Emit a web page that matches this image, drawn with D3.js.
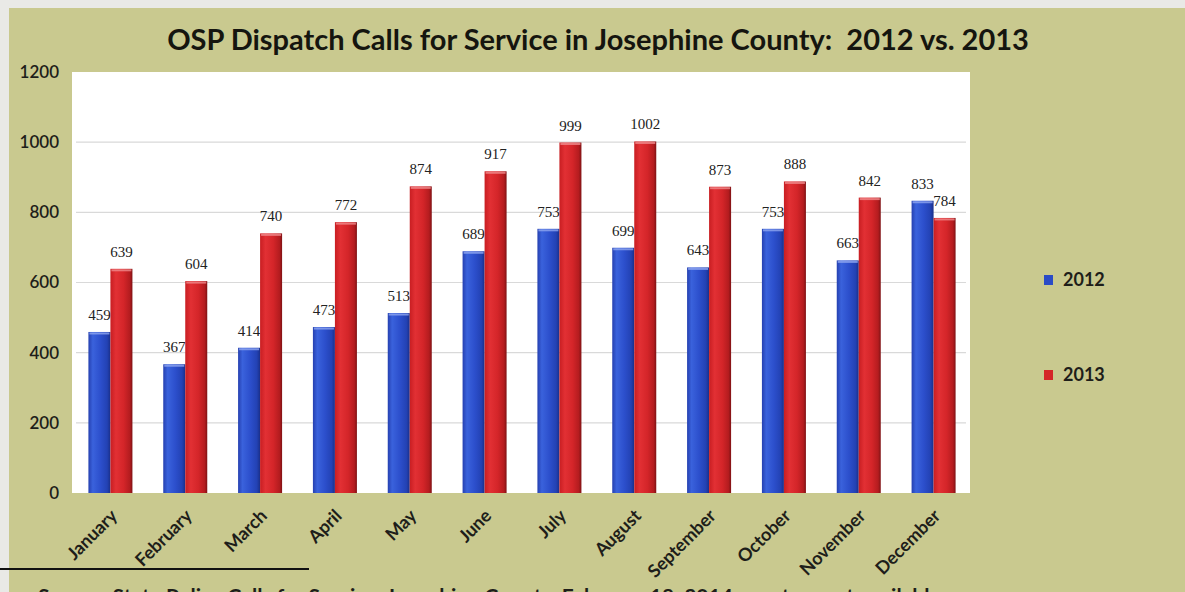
<!DOCTYPE html>
<html>
<head>
<meta charset="utf-8">
<script src="https://cdn.jsdelivr.net/npm/d3@7"></script>
<style>
  html, body { margin: 0; padding: 0; background: #ececec; overflow: hidden; }
  svg { display: block; }
</style>
</head>
<body>
<div id="container"></div>
<script>
// data
const months = ["January","February","March","April","May","June","July","August","September","October","November","December"]
const series = ["2012","2013"]
const calls2012 = [459,367,414,473,513,689,753,699,643,753,663,833]
const calls2013 = [639,604,740,772,874,917,999,1002,873,888,842,784]
const yTicks = [0,200,400,600,800,1000,1200]
const titleText = "OSP Dispatch Calls for Service in Josephine County:  2012 vs. 2013"
const sourceText = "Source: State Police Calls for Service, Josephine County, February 18, 2014, most recent available"

const width = 1185, height = 592
const plot = {left: 72, top: 72, right: 970, bottom: 493}
const sans = "Lato, 'Open Sans', sans-serif"

const svg = d3.select("#container")
    .append("svg")
    .attr("width", width)
    .attr("height", height)
    .attr("viewBox", [0, 0, width, height])

//background: olive sheet, pale scan edges on top/left
svg.append("rect").attr("width", width).attr("height", height).attr("fill", "#e9e9e6")
svg.append("rect")
    .attr("x", 9).attr("y", 8)
    .attr("width", width - 9).attr("height", height - 8)
    .attr("fill", "#c9c98f")

const defs = svg.append("defs")
function barGradient(id, stops){
    const g = defs.append("linearGradient").attr("id", id)
        .attr("x1", "0%").attr("x2", "100%").attr("y1", "0%").attr("y2", "0%")
    stops.forEach(s => g.append("stop").attr("offset", s[0]).attr("stop-color", s[1]))
}
barGradient("grad2012", [["0%","#2540b0"],["20%","#3a62dc"],["55%","#2c4fcc"],["85%","#2342b4"],["100%","#1a2f8a"]])
barGradient("grad2013", [["0%","#c81e22"],["25%","#e23034"],["60%","#d42529"],["88%","#b41c1f"],["100%","#7e1214"]])
const colors = {"2012": "#2a4bc6", "2013": "#d42628"}

svg.append("rect")
    .attr("x", plot.left).attr("y", plot.top)
    .attr("width", plot.right - plot.left).attr("height", plot.bottom - plot.top)
    .attr("fill", "#ffffff")

const y = d3.scaleLinear().domain([0, 1200]).range([plot.bottom, plot.top])
const x0 = d3.scaleBand().domain(months).range([plot.left + 1, plot.right + 1])
    .paddingInner(0.412).paddingOuter(0.206)
const x1 = d3.scaleBand().domain(series).range([0, x0.bandwidth()])

//gridlines
svg.append("g")
    .selectAll("line")
    .data(yTicks.filter(t => t > 0 && t < 1200))
    .join("line")
    .attr("x1", plot.left + 4).attr("x2", plot.right - 4)
    .attr("y1", d => y(d)).attr("y2", d => y(d))
    .attr("stroke", "#d9d9d9")
    .attr("stroke-width", 1.2)

//y axis labels (no line)
const yAxis = svg.append("g")
    .attr("transform", `translate(${plot.left - 13},0)`)
    .call(d3.axisLeft(y).tickValues(yTicks).tickFormat(d3.format("d")).tickSize(0).tickPadding(0))
yAxis.select(".domain").remove()
yAxis.selectAll("text")
    .attr("font-family", sans)
    .attr("font-size", 17)
    .attr("font-weight", 600)
    .attr("fill", "#1e1e1a")

const rows = months.map((m, i) => ({month: m, "2012": calls2012[i], "2013": calls2013[i]}))
const labelFont = "'Liberation Serif', 'DejaVu Serif', serif"

//draw per series so 2013 bars cover the 2012 labels like in the original
series.forEach(s => {
    const g = svg.append("g").classed("series-" + s, true)
    g.selectAll("rect")
        .data(rows)
        .join("rect")
        .attr("x", d => x0(d.month) + x1(s))
        .attr("y", d => y(d[s]))
        .attr("width", x1.bandwidth())
        .attr("height", d => y(0) - y(d[s]))
        .attr("fill", `url(#grad${s})`)
    // light cap at the bar top
    g.selectAll("line.cap")
        .data(rows)
        .join("line")
        .classed("cap", true)
        .attr("x1", d => x0(d.month) + x1(s) + 1)
        .attr("x2", d => x0(d.month) + x1(s) + x1.bandwidth() - 1)
        .attr("y1", d => y(d[s]) + 1.5).attr("y2", d => y(d[s]) + 1.5)
        .attr("stroke", s === "2012" ? "#8fa6f0" : "#f08a8c")
        .attr("stroke-width", 2)
        .attr("opacity", 0.8)
    g.selectAll("text.value")
        .data(rows)
        .join("text")
        .classed("value", true)
        .attr("x", d => x0(d.month) + x1(s) + x1.bandwidth() / 2)
        .attr("y", d => y(d[s]) - 12)
        .attr("text-anchor", "middle")
        .attr("font-family", labelFont)
        .attr("font-size", 15)
        .attr("fill", "#222222")
        .text(d => d[s])
})

//month labels
svg.append("g")
    .selectAll("text")
    .data(months)
    .join("text")
    .attr("transform", d => `translate(${x0(d) + x0.bandwidth() / 2 + 8},${plot.bottom + 24}) rotate(-45)`)
    .attr("text-anchor", "end")
    .attr("font-family", sans)
    .attr("font-size", 18)
    .attr("font-weight", 700)
    .attr("fill", "#1e1e1a")
    .text(d => d)

//title
svg.append("text")
    .attr("x", 598).attr("y", 50)
    .attr("text-anchor", "middle")
    .attr("font-family", sans)
    .attr("font-size", 29)
    .attr("font-weight", 700)
    .attr("fill", "#15150f")
    .style("white-space", "pre")
    .text(titleText)

//legend
const legend = svg.append("g")
    .selectAll("g")
    .data(series)
    .join("g")
    .attr("transform", (d, i) => `translate(1044,${280 + i * 95})`)
legend.append("rect")
    .attr("x", 0).attr("y", -5)
    .attr("width", 9).attr("height", 10)
    .attr("fill", d => colors[d])
legend.append("text")
    .attr("x", 19).attr("y", 0)
    .attr("dy", "0.35em")
    .attr("font-family", sans)
    .attr("font-size", 18)
    .attr("font-weight", 700)
    .attr("fill", "#1e1e1a")
    .text(d => d)

//footnote rule and the source line cut off by the page edge
svg.append("line")
    .attr("x1", 0).attr("x2", 309)
    .attr("y1", 569).attr("y2", 569)
    .attr("stroke", "#111")
    .attr("stroke-width", 2)
svg.append("text")
    .attr("x", 38).attr("y", 604)
    .attr("font-family", sans)
    .attr("font-size", 21)
    .attr("font-weight", 700)
    .attr("fill", "#1e1e1a")
    .text(sourceText)
</script>
</body>
</html>
